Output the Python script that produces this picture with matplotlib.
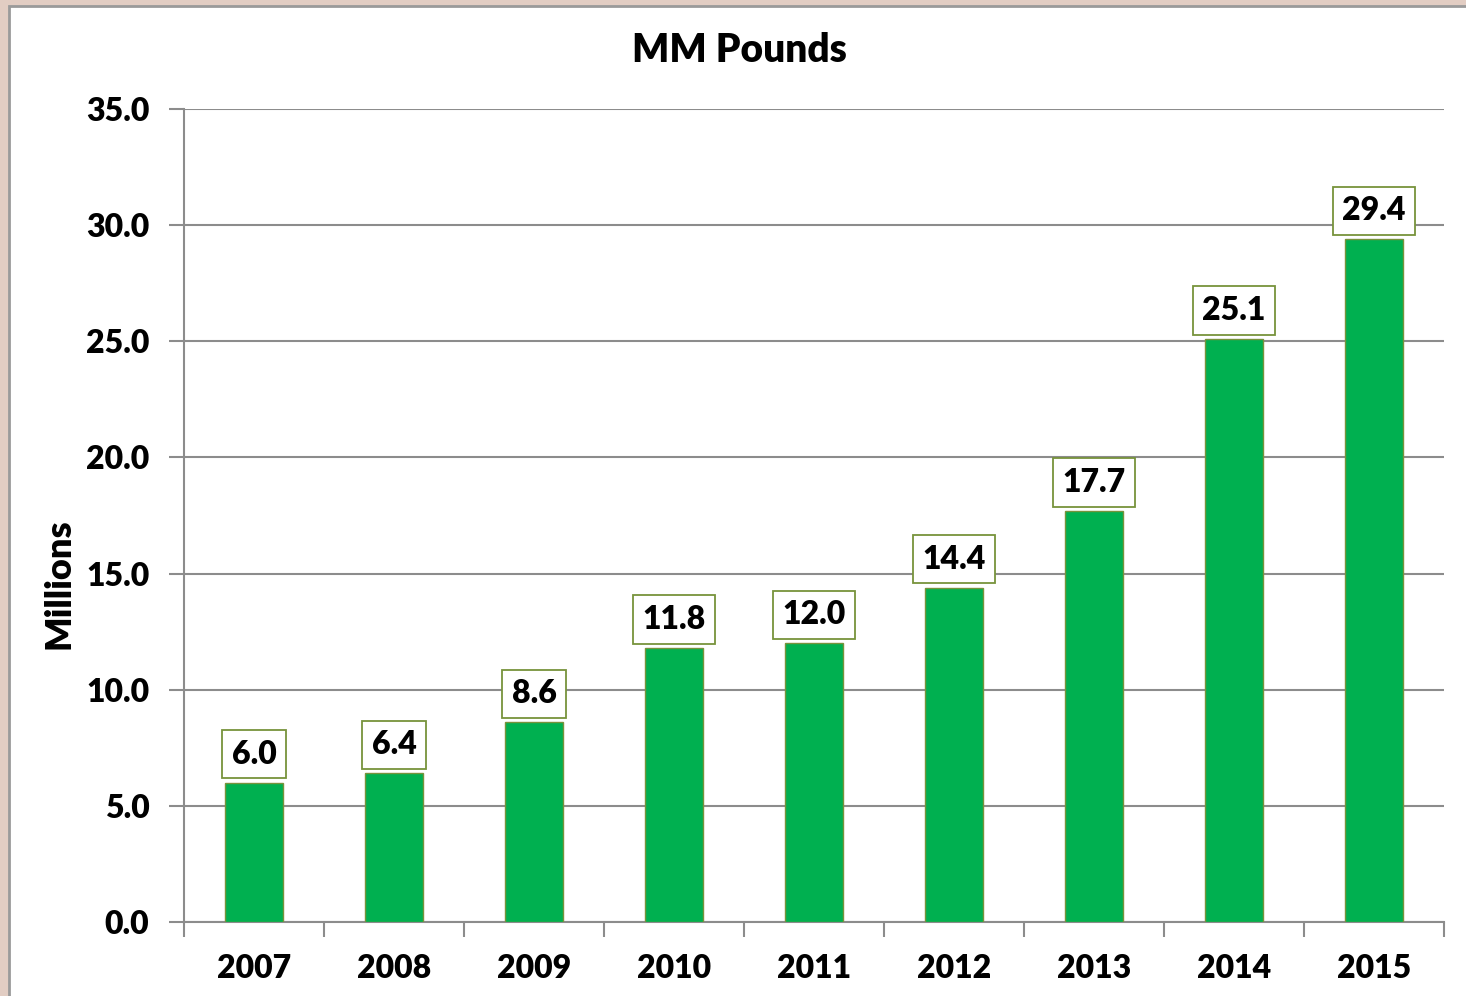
import matplotlib.pyplot as plt
from matplotlib.patches import Rectangle

years = ["2007", "2008", "2009", "2010", "2011", "2012", "2013", "2014", "2015"]
pounds = [6.0, 6.4, 8.6, 11.8, 12.0, 14.4, 17.7, 25.1, 29.4]
yticks = [0, 5, 10, 15, 20, 25, 30, 35]

plt.rcParams['font.family'] = ['Lato', 'DejaVu Sans']
WT = "heavy"

W, H = 1466, 996
fig = plt.figure(figsize=(W / 100, H / 100), dpi=100)
fig.patch.set_facecolor("#e2cdc3")
# white chart area with grey border, behind the axes
fig.patches.append(Rectangle((9 / W, -0.05), 1.1, (H - 6) / H + 0.05, transform=fig.transFigure,
                             facecolor="white", edgecolor="#9a9a9a", lw=2, zorder=-1))

ax = fig.add_axes([184 / W, (H - 922) / H, (1444 - 184) / W, (922 - 109) / H])
ax.set_facecolor("white")

x = list(range(len(years)))
bars = ax.bar(x, pounds, width=0.41, color="#00b050", edgecolor="#77933c", lw=1, zorder=3)

for xi, v in zip(x, pounds):
    ax.annotate(f"{v:.1f}", (xi, v), xytext=(0, 10), textcoords="offset points",
                ha="center", va="bottom", fontsize=23, fontweight=WT, zorder=4,
                bbox=dict(boxstyle="square,pad=0.3", fc="white", ec="#77933c", lw=1.3))

ax.set_xlim(-0.5, len(years) - 0.5)
ax.set_ylim(0, 35)
ax.set_yticks(yticks)
ax.set_yticklabels([f"{t:.1f}" for t in yticks], fontsize=23, fontweight=WT)
ax.yaxis.grid(True, color="#8c8c8c", lw=1.5, zorder=0)
ax.set_axisbelow(True)

ax.set_xticks(x)
ax.set_xticklabels(years, fontsize=23, fontweight=WT)
ax.tick_params(axis="x", length=0, pad=23)
ax.set_xticks([i - 0.5 for i in range(len(years) + 1)], minor=True)
ax.tick_params(axis="x", which="minor", length=11, width=1.5, color="#8c8c8c")
ax.tick_params(axis="y", length=11, width=1.5, color="#8c8c8c", pad=14)

for s in ["top", "right"]:
    ax.spines[s].set_visible(False)
for s in ["left", "bottom"]:
    ax.spines[s].set_color("#8c8c8c")
    ax.spines[s].set_linewidth(1.5)

ax.set_ylabel("Millions", fontsize=26, fontweight=WT)
ax.yaxis.set_label_coords(-0.086, 0.416)
fig.text(739 / W, 1 - 50 / H, "MM Pounds", ha="center", va="center", fontsize=28, fontweight=WT)

fig.savefig("out.png", dpi=100, facecolor=fig.get_facecolor())
